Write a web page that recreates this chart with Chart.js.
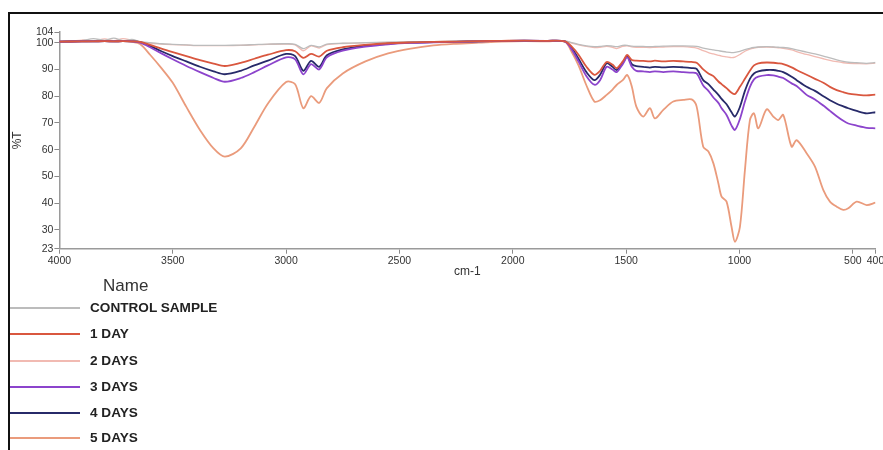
<!DOCTYPE html>
<html>
<head>
<meta charset="utf-8">
<script src="https://cdn.jsdelivr.net/npm/chart.js@4.4.0/dist/chart.umd.min.js"></script>
<style>
	html, body { margin: 0; padding: 0; background: #fff; overflow: hidden; }
	body { width: 883px; height: 450px; position: relative; font-family: "Liberation Sans", Arial, sans-serif; }
	#cornice { position: absolute; left: 8px; top: 12px; width: 900px; height: 460px; border-top: 2px solid #111; border-left: 2px solid #111; }
	#box { position: absolute; left: 0; top: 0; width: 910px; height: 290px; }
	#legenda { position: absolute; left: 0; top: 276px; }
	#legenda .titolo { position: absolute; left: 103px; top: 0; font-size: 17px; color: #333; white-space: nowrap; }
	#legenda .voce { position: absolute; left: 10px; height: 20px; white-space: nowrap; }
	#legenda .linea { position: absolute; left: 0; top: 9px; width: 70px; height: 1.5px; }
	#legenda .nome { position: absolute; left: 80px; top: 2px; font-size: 13.6px; font-weight: bold; color: #222; }
</style>
</head>
<body>
<div id="cornice"></div>
<div id="box"><canvas id="grafico"></canvas></div>
<div id="legenda"></div>
<script>
// numeri d'onda (cm-1), dal piu' alto al piu' basso
const wavenumbers = [
	4000, 3900, 3850, 3800, 3760, 3720, 3680, 3644, 3600, 3550,
	3500, 3440, 3380, 3320, 3270, 3200, 3140, 3080, 3000, 2960,
	2924, 2890, 2854, 2820, 2750, 2650, 2550, 2450, 2350, 2250,
	2150, 2050, 1950, 1850, 1770, 1740, 1710, 1675, 1640, 1615,
	1586, 1560, 1542, 1515, 1495, 1475, 1455, 1425, 1395, 1373,
	1336, 1292, 1248, 1211, 1189, 1160, 1137, 1115, 1093, 1079,
	1057, 1035, 1020, 998, 976, 954, 936, 917, 880, 851,
	829, 807, 770, 748, 704, 667, 630, 601, 571, 542,
	520, 483, 439, 400
];

const controllo = [
	100.5, 100.8, 101.5, 100.9, 101.7, 100.8, 101.2, 100.4, 100.0, 99.6,
	99.4, 99.2, 99.0, 99.0, 99.0, 99.1, 99.3, 99.5, 99.6, 99.4,
	97.8, 99.0, 98.4, 99.5, 99.8, 100.0, 100.2, 100.3, 100.4, 100.5,
	100.6, 100.7, 100.8, 100.8, 100.7, 100.0, 99.4, 98.8, 98.5, 98.6,
	98.9, 98.7, 98.5, 99.0, 99.0, 98.7, 98.6, 98.6, 98.5, 98.6,
	98.7, 98.8, 98.8, 98.7, 98.6, 98.0, 97.6, 97.3, 97.0, 96.8,
	96.5, 96.3, 96.4, 96.8, 97.4, 97.9, 98.2, 98.4, 98.5, 98.4,
	98.3, 98.2, 97.8, 97.3, 96.5, 95.8, 95.0, 94.3, 93.6, 93.0,
	92.7, 92.5, 92.3, 92.6
];

const giorno1 = [
	100.4, 100.5, 100.5, 100.6, 100.5, 100.6, 100.5, 100.3, 99.2, 97.8,
	96.5, 95.0, 93.5, 92.2, 91.3, 92.5, 94.0, 95.5, 97.2, 96.8,
	94.3, 95.8, 94.8, 97.0, 98.3, 99.2, 99.8, 100.1, 100.3, 100.4,
	100.6, 100.7, 100.8, 100.7, 100.5, 98.5, 95.5, 91.0, 88.0, 89.5,
	92.8, 91.8, 90.5, 93.0, 95.4, 93.5, 93.3, 93.2, 93.0, 93.3,
	93.0, 93.2, 93.0, 92.8, 92.5, 90.0, 88.5, 87.5, 85.5, 84.5,
	83.0, 81.3, 80.8, 83.5, 86.5, 89.5, 91.5, 92.3, 92.6, 92.5,
	92.3, 92.0, 90.8, 89.8, 88.0, 86.5, 85.0, 83.5, 82.3, 81.5,
	81.0, 80.6, 80.3, 80.6
];

const giorni2 = [
	100.3, 101.0, 100.7, 101.4, 100.8, 101.5, 100.9, 100.3, 99.8, 99.5,
	99.3, 99.1, 98.9, 98.9, 98.9, 99.0, 99.2, 99.4, 99.5, 99.2,
	97.0, 98.8, 98.0, 99.3, 99.7, 99.9, 100.1, 100.2, 100.3, 100.4,
	100.5, 100.6, 100.7, 100.7, 100.6, 99.8, 99.2, 98.6, 98.2, 98.3,
	98.6, 98.3, 97.8, 98.6, 98.8, 98.4, 98.3, 98.3, 98.2, 98.3,
	98.4, 98.5, 98.5, 98.3, 98.0, 97.0, 96.3, 95.8, 95.3, 95.0,
	94.7, 94.4, 94.6, 95.6, 96.8, 97.6, 98.0, 98.3, 98.4, 98.3,
	98.1, 97.9, 97.3, 96.7, 95.6, 94.8, 94.0, 93.4, 92.9, 92.5,
	92.3, 92.2, 92.1, 92.4
];

const giorni3 = [
	100.4, 100.5, 100.5, 100.6, 100.5, 100.6, 100.5, 100.0, 98.3, 96.0,
	93.8, 91.3, 89.0, 86.8, 85.4, 86.8, 89.0, 91.5, 94.5, 93.8,
	88.2, 92.0, 90.0, 94.5, 97.0, 98.5, 99.4, 99.9, 100.1, 100.3,
	100.5, 100.7, 100.8, 100.7, 100.4, 97.5, 93.0, 87.5, 84.3, 86.0,
	91.0, 90.0, 89.0, 92.0, 94.5, 91.0, 89.5, 89.3, 89.0, 89.3,
	89.0, 89.3, 89.0, 88.8, 88.5, 84.0, 82.0, 79.5, 77.5, 75.5,
	73.0, 69.0, 67.4, 71.5, 78.0, 83.5, 86.3, 87.3, 87.9, 87.8,
	87.3, 86.8, 84.8, 83.8, 80.5, 78.8, 76.5, 74.5, 72.5, 70.8,
	69.8, 69.0, 68.2, 68.0
];

const giorni4 = [
	100.4, 100.5, 100.5, 100.6, 100.5, 100.6, 100.5, 100.2, 98.8, 96.8,
	95.0, 93.0, 91.0, 89.3, 88.2, 89.5, 91.5, 93.3, 95.8, 95.0,
	89.5, 93.2, 91.0, 95.3, 97.5, 98.8, 99.6, 100.0, 100.2, 100.4,
	100.5, 100.7, 100.8, 100.7, 100.5, 98.0, 94.0, 89.0, 86.0, 88.0,
	92.3, 91.0, 89.8, 92.5, 95.0, 92.0, 91.2, 91.0, 90.7, 91.0,
	90.8, 91.0, 90.8, 90.5, 90.2, 86.0, 84.5, 82.5, 80.5, 79.0,
	77.0, 74.0, 72.4, 76.0, 82.0, 86.5, 88.5, 89.3, 89.8, 89.8,
	89.5, 89.0, 87.3, 86.0, 83.5, 82.0, 80.0, 78.5, 77.2, 76.2,
	75.5, 74.5, 73.6, 74.0
];

const giorni5 = [
	100.4, 100.5, 100.6, 100.6, 100.5, 100.6, 100.3, 99.5, 95.5, 90.5,
	85.0, 76.0, 67.4, 60.5, 57.4, 60.5, 68.6, 77.3, 85.3, 84.5,
	75.5, 80.0, 77.5, 83.0, 88.5, 93.0, 96.0, 97.8, 99.0, 99.6,
	100.0, 100.4, 100.6, 100.5, 100.4, 96.5, 91.5, 84.0, 78.0, 78.5,
	80.5, 82.5, 84.2, 86.0, 87.9, 83.6, 76.1, 72.4, 75.5, 71.7,
	74.9, 78.0, 78.6, 78.8, 76.1, 61.1, 59.3, 54.9, 47.4, 42.5,
	40.6, 31.2, 25.6, 31.2, 52.4, 71.1, 73.6, 68.0, 75.1, 72.4,
	71.1, 73.0, 61.1, 63.6, 58.7, 53.7, 44.9, 40.6, 38.7, 37.5,
	38.1, 40.6, 39.3, 40.2
];

const nomi = ['CONTROL SAMPLE', '1 DAY', '2 DAYS', '3 DAYS', '4 DAYS', '5 DAYS'];
const colori = ['#bcbcbc', '#d9573f', '#f1bab2', '#8c44cc', '#272a69', '#ea9b7c'];
const serie = [controllo, giorno1, giorni2, giorni3, giorni4, giorni5];

const xTicks = [4000, 3500, 3000, 2500, 2000, 1500, 1000, 500, 400];
const yTicks = [23, 30, 40, 50, 60, 70, 80, 90, 100, 104];

function punti(valori){
	return wavenumbers.map((w, i) => ({ x: w, y: valori[i] }));
}

const datasets = serie.map((s, i) => ({
	label: nomi[i],
	data: punti(s),
	borderColor: colori[i],
	borderWidth: (i === 0 || i === 2) ? 1.3 : 1.8,
	pointRadius: 0,
	tension: 0.3,
	fill: false,
	order: (i === 0 || i === 2) ? 10 : i
}));

const ctx = document.getElementById('grafico').getContext('2d');
const grafico = new Chart(ctx, {
	type: 'line',
	data: { datasets: datasets },
	options: {
		responsive: true,
		maintainAspectRatio: false,
		animation: false,
		layout: { padding: { top: 32, left: 0, right: 34.5, bottom: 5.3 } },
		plugins: {
			legend: { display: false },
			tooltip: { enabled: false }
		},
		scales: {
			x: {
				type: 'linear',
				reverse: true,
				min: 400,
				max: 4000,
				afterBuildTicks: function(scale){
					scale.ticks = xTicks.map(v => ({ value: v }));
				},
				afterFit: function(scale){ scale.height = 36; },
				grid: { drawOnChartArea: false, drawTicks: true, tickLength: 5, color: '#8a8a8a' },
				border: { color: '#9a9a9a', width: 1.5 },
				ticks: {
					padding: 1,
					maxRotation: 0,
					autoSkip: false,
					color: '#333',
					font: { family: 'Liberation Sans', size: 10.5 },
					callback: v => String(v)
				},
				title: {
					display: true,
					text: 'cm-1',
					color: '#333',
					font: { family: 'Liberation Sans', size: 12 },
					padding: { top: 0, bottom: 6 }
				}
			},
			y: {
				type: 'linear',
				min: 23,
				max: 104,
				afterBuildTicks: function(scale){
					scale.ticks = yTicks.map(v => ({ value: v }));
				},
				afterFit: function(scale){ scale.width = 59.4; },
				grid: { drawOnChartArea: false, drawTicks: true, tickLength: 5, color: '#8a8a8a' },
				border: { color: '#9a9a9a', width: 1.5 },
				ticks: {
					padding: 1,
					autoSkip: false,
					color: '#333',
					font: { family: 'Liberation Sans', size: 10.5 },
					callback: v => String(v)
				},
				title: {
					display: true,
					text: '%T',
					color: '#333',
					font: { family: 'Liberation Sans', size: 12 },
					padding: { top: 10, bottom: 0 }
				}
			}
		}
	}
});

// legenda sotto il grafico, costruita dai dataset
(function(){
	const box = document.getElementById('legenda');
	const t = document.createElement('div');
	t.className = 'titolo';
	t.textContent = 'Name';
	box.appendChild(t);
	const righe = [22, 48, 75, 101, 127, 152];
	nomi.forEach((nome, i) => {
		const v = document.createElement('div');
		v.className = 'voce';
		v.style.top = righe[i] + 'px';
		const l = document.createElement('div');
		l.className = 'linea';
		l.style.background = colori[i];
		const n = document.createElement('div');
		n.className = 'nome';
		n.textContent = nome;
		v.appendChild(l);
		v.appendChild(n);
		box.appendChild(v);
	});
})();
</script>
</body>
</html>
